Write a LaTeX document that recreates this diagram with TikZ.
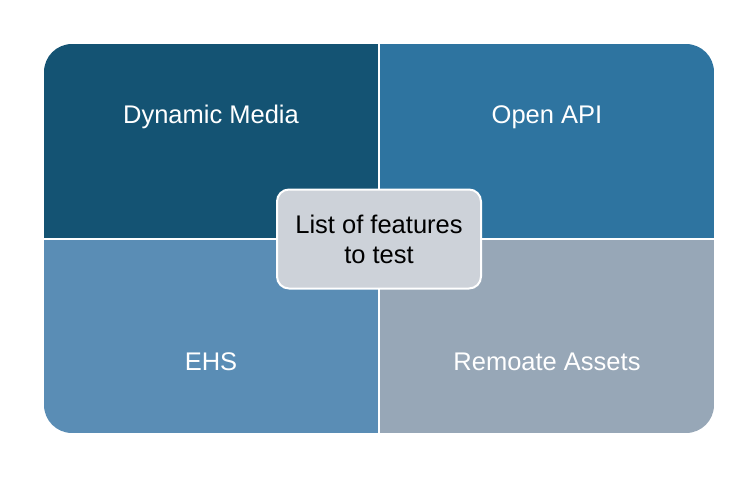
\documentclass[tikz,border=0pt]{standalone}
\usepackage{fontspec}
\setmainfont{Liberation Sans}
\usetikzlibrary{positioning}
\definecolor{QNavy}{HTML}{145373}
\definecolor{QBlue}{HTML}{2E74A0}
\definecolor{QSky}{HTML}{5A8DB5}
\definecolor{QSlate}{HTML}{97A7B7}
\definecolor{QHub}{HTML}{CDD2D9}

\begin{document}
\begin{tikzpicture}[
      x=1pt,y=-1pt,
      quadtext/.style={text=white,font=\fontsize{25.5}{30}\selectfont},
      hub/.style={draw=white,line width=2pt,fill=QHub,rounded corners=12pt,
        minimum width=204pt,minimum height=99pt,align=center,
        font=\fontsize{25.5}{30}\selectfont}
    ]
      \useasboundingbox (0,0) rectangle (750,483);
      \begin{scope}
        \clip[rounded corners=28pt] (44,44) rectangle (714,433);
        \fill[QNavy] (44,44) rectangle (379,239);
        \fill[QBlue] (379,44) rectangle (714,239);
        \fill[QSky] (44,239) rectangle (379,433);
        \fill[QSlate] (379,239) rectangle (714,433);
        \draw[white,line width=2pt] (379,44) -- (379,433);
        \draw[white,line width=2pt] (44,239) -- (714,239);
      \end{scope}
      \node[quadtext] (media) at (211,117) {Dynamic Media};
      \node[quadtext] (api) at (547,117) {Open API};
      \node[quadtext] (ehs) at (211,362) {EHS};
      \node[quadtext] (assets) at (547,362) {Remoate Assets};
      \node[hub] (features) at (379,239) {List of features\\to test};
    \end{tikzpicture}
\end{document}
